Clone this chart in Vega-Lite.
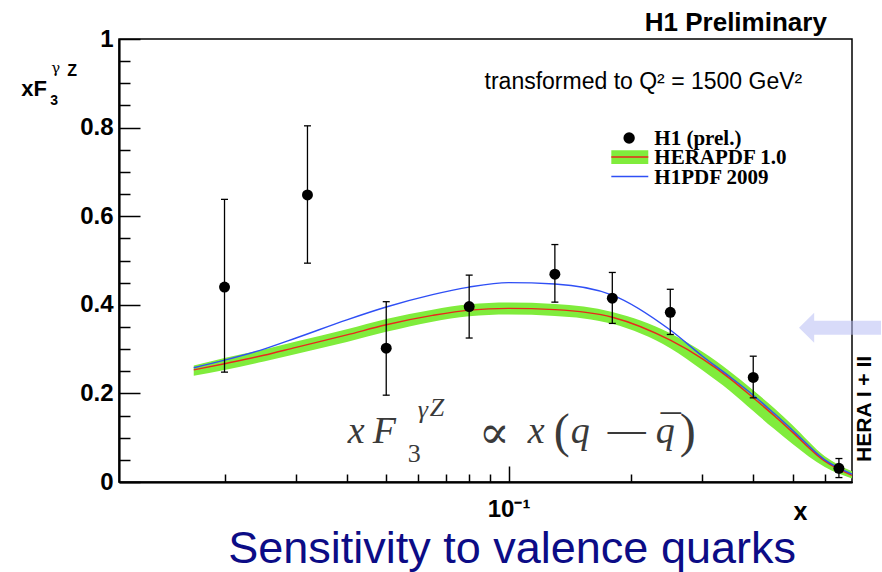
{
  "$schema": "https://vega.github.io/schema/vega-lite/v6.json",
  "width": 733,
  "height": 443,
  "autosize": {"type": "none"},
  "padding": {"left": 119, "top": 39, "right": 30, "bottom": 90},
  "background": "white",
  "config": {
    "view": {"stroke": "#000", "strokeWidth": 1.5},
    "font": "Liberation Sans",
    "axis": {"grid": false, "domainColor": "#000", "domainWidth": 1.5, "tickColor": "#000", "tickWidth": 1.5, "title": null}
  },
  "resolve": {"axis": {"x": "independent", "y": "independent"}},
  "datasets": {
    "curves": [
      {"x": 0.0168, "lo": 0.240, "hi": 0.263, "herapdf": 0.253, "h1pdf": 0.258},
      {"x": 0.02, "lo": 0.253, "hi": 0.280, "herapdf": 0.267, "h1pdf": 0.275},
      {"x": 0.025, "lo": 0.272, "hi": 0.299, "herapdf": 0.286, "h1pdf": 0.300},
      {"x": 0.03, "lo": 0.289, "hi": 0.317, "herapdf": 0.304, "h1pdf": 0.325},
      {"x": 0.04, "lo": 0.316, "hi": 0.345, "herapdf": 0.332, "h1pdf": 0.366},
      {"x": 0.05, "lo": 0.339, "hi": 0.368, "herapdf": 0.355, "h1pdf": 0.395},
      {"x": 0.065, "lo": 0.362, "hi": 0.389, "herapdf": 0.376, "h1pdf": 0.423},
      {"x": 0.08, "lo": 0.374, "hi": 0.401, "herapdf": 0.388, "h1pdf": 0.440},
      {"x": 0.1, "lo": 0.378, "hi": 0.405, "herapdf": 0.392, "h1pdf": 0.450},
      {"x": 0.13, "lo": 0.375, "hi": 0.402, "herapdf": 0.389, "h1pdf": 0.447},
      {"x": 0.18, "lo": 0.357, "hi": 0.384, "herapdf": 0.372, "h1pdf": 0.422},
      {"x": 0.25, "lo": 0.302, "hi": 0.336, "herapdf": 0.320, "h1pdf": 0.343},
      {"x": 0.3, "lo": 0.252, "hi": 0.294, "herapdf": 0.278, "h1pdf": 0.284},
      {"x": 0.35, "lo": 0.206, "hi": 0.250, "herapdf": 0.234, "h1pdf": 0.238},
      {"x": 0.4, "lo": 0.160, "hi": 0.207, "herapdf": 0.190, "h1pdf": 0.196},
      {"x": 0.45, "lo": 0.120, "hi": 0.167, "herapdf": 0.150, "h1pdf": 0.155},
      {"x": 0.5, "lo": 0.086, "hi": 0.128, "herapdf": 0.112, "h1pdf": 0.117},
      {"x": 0.6, "lo": 0.034, "hi": 0.058, "herapdf": 0.047, "h1pdf": 0.050},
      {"x": 0.7, "lo": 0.008, "hi": 0.024, "herapdf": 0.015, "h1pdf": 0.018}
    ],
    "points": [
      {"x": 0.02, "y": 0.440, "lo": 0.248, "hi": 0.638},
      {"x": 0.032, "y": 0.648, "lo": 0.494, "hi": 0.804},
      {"x": 0.05, "y": 0.302, "lo": 0.196, "hi": 0.407},
      {"x": 0.08, "y": 0.396, "lo": 0.325, "hi": 0.467},
      {"x": 0.13, "y": 0.469, "lo": 0.406, "hi": 0.536},
      {"x": 0.18, "y": 0.415, "lo": 0.358, "hi": 0.473},
      {"x": 0.25, "y": 0.383, "lo": 0.333, "hi": 0.435},
      {"x": 0.4, "y": 0.236, "lo": 0.190, "hi": 0.284},
      {"x": 0.65, "y": 0.031, "lo": 0.010, "hi": 0.053}
    ]
  },
  "layer": [
    {
      "data": {"name": "curves"},
      "mark": {"type": "area", "color": "#80ec3c", "interpolate": "monotone"},
      "encoding": {
        "x": {
          "field": "x", "type": "quantitative",
          "scale": {"type": "log", "domain": [0.011, 0.7], "nice": false},
          "axis": {
            "orient": "bottom", "values": [0.1], "ticks": false,
            "labelExpr": "'10⁻¹'",
            "labelFont": "Liberation Sans", "labelFontSize": 24, "labelFontWeight": "bold", "labelColor": "#000",
            "labelFlush": false, "labelOverlap": false, "labelBound": false, "labelPadding": 15
          }
        },
        "y": {
          "field": "lo", "type": "quantitative",
          "scale": {"domain": [0, 1], "nice": false, "zero": false},
          "axis": {
            "orient": "left", "values": [0, 0.2, 0.4, 0.6, 0.8, 1], "ticks": false,
            "labelExpr": "format(datum.value, '~g')",
            "labelFont": "Liberation Sans", "labelFontSize": 24, "labelFontWeight": "bold", "labelColor": "#000",
            "labelFlush": false, "labelOverlap": false, "labelBound": false, "labelPadding": 6
          }
        },
        "y2": {"field": "hi"}
      }
    },
    {
      "data": {"name": "curves"},
      "mark": {"type": "line", "color": "#e8281c", "strokeWidth": 1.4, "interpolate": "monotone"},
      "encoding": {
        "x": {
          "field": "x", "type": "quantitative",
          "axis": {"orient": "bottom", "values": [0.1], "labels": false, "tickSize": -16}
        },
        "y": {
          "field": "herapdf", "type": "quantitative",
          "axis": {"orient": "left", "values": [0, 0.2, 0.4, 0.6, 0.8, 1], "labels": false, "tickSize": -21}
        }
      }
    },
    {
      "data": {"name": "curves"},
      "mark": {"type": "line", "color": "#2f4ff5", "strokeWidth": 1.4, "interpolate": "monotone"},
      "encoding": {
        "x": {
          "field": "x", "type": "quantitative",
          "axis": {"orient": "bottom", "values": [0.02, 0.03, 0.04, 0.05, 0.06, 0.07, 0.08, 0.09, 0.2, 0.3, 0.4, 0.5, 0.6], "labels": false, "tickSize": -8}
        },
        "y": {
          "field": "h1pdf", "type": "quantitative",
          "axis": {"orient": "left", "values": [0.05, 0.1, 0.15, 0.25, 0.3, 0.35, 0.45, 0.5, 0.55, 0.65, 0.7, 0.75, 0.85, 0.9, 0.95], "labels": false, "tickSize": -11}
        }
      }
    },
    {
      "data": {"name": "points"},
      "mark": {"type": "rule", "color": "#000", "strokeWidth": 1.3},
      "encoding": {
        "x": {"field": "x", "type": "quantitative", "axis": null},
        "y": {"field": "lo", "type": "quantitative", "axis": null},
        "y2": {"field": "hi"}
      }
    },
    {
      "data": {"name": "points"},
      "mark": {"type": "point", "shape": "stroke", "filled": false, "color": "#000", "size": 49, "strokeWidth": 1.3, "opacity": 1},
      "encoding": {
        "x": {"field": "x", "type": "quantitative", "axis": null},
        "y": {"field": "lo", "type": "quantitative", "axis": null}
      }
    },
    {
      "data": {"name": "points"},
      "mark": {"type": "point", "shape": "stroke", "filled": false, "color": "#000", "size": 49, "strokeWidth": 1.3, "opacity": 1},
      "encoding": {
        "x": {"field": "x", "type": "quantitative", "axis": null},
        "y": {"field": "hi", "type": "quantitative", "axis": null}
      }
    },
    {
      "data": {"name": "points"},
      "mark": {"type": "circle", "color": "#000", "size": 120, "opacity": 1},
      "encoding": {
        "x": {"field": "x", "type": "quantitative", "axis": null},
        "y": {"field": "y", "type": "quantitative", "axis": null}
      }
    },
    {
      "data": {"values": [{}]},
      "mark": {"type": "point", "shape": "M-1,0L-0.63,-0.366L-0.63,-0.17L1,-0.17L1,0.17L-0.63,0.17L-0.63,0.366Z", "filled": true, "color": "#b8bef4", "opacity": 0.55, "size": 6724, "strokeWidth": 0},
      "encoding": {
        "x": {"datum": 0.654, "type": "quantitative", "axis": null},
        "y": {"datum": 0.348, "type": "quantitative", "axis": null}
      }
    },
    {
      "data": {"values": [{}]},
      "mark": {"type": "text", "text": "H1 Preliminary", "font": "Liberation Sans", "fontSize": 26, "fontWeight": "bold", "color": "#000", "align": "right", "baseline": "alphabetic"},
      "encoding": {
        "x": {"datum": 0.607, "type": "quantitative", "axis": null},
        "y": {"datum": 1.018, "type": "quantitative", "axis": null}
      }
    },
    {
      "data": {"values": [{}]},
      "mark": {"type": "text", "text": "HERA I + II", "font": "Liberation Sans", "fontSize": 21, "fontWeight": "bold", "color": "#000", "angle": 270, "align": "center", "baseline": "middle"},
      "encoding": {
        "x": {"datum": 0.754, "type": "quantitative", "axis": null},
        "y": {"datum": 0.165, "type": "quantitative", "axis": null}
      }
    },
    {
      "data": {"values": [{}]},
      "mark": {"type": "text", "text": "transformed to Q² = 1500 GeV²", "font": "Liberation Sans", "fontSize": 23, "color": "#000", "align": "right", "baseline": "alphabetic"},
      "encoding": {
        "x": {"datum": 0.528, "type": "quantitative", "axis": null},
        "y": {"datum": 0.887, "type": "quantitative", "axis": null}
      }
    },
    {
      "data": {"values": [{}]},
      "mark": {"type": "circle", "color": "#000", "size": 130, "opacity": 1},
      "encoding": {
        "x": {"datum": 0.198, "type": "quantitative", "axis": null},
        "y": {"datum": 0.7765, "type": "quantitative", "axis": null}
      }
    },
    {
      "data": {"values": [{}]},
      "mark": {"type": "rect", "color": "#80ec3c"},
      "encoding": {
        "x": {"datum": 0.179, "type": "quantitative", "axis": null},
        "x2": {"datum": 0.2207},
        "y": {"datum": 0.749, "type": "quantitative", "axis": null},
        "y2": {"datum": 0.718}
      }
    },
    {
      "data": {"values": [{}]},
      "mark": {"type": "rule", "color": "#e8281c", "strokeWidth": 1.5},
      "encoding": {
        "x": {"datum": 0.179, "type": "quantitative", "axis": null},
        "x2": {"datum": 0.2207},
        "y": {"datum": 0.7336, "type": "quantitative", "axis": null}
      }
    },
    {
      "data": {"values": [{}]},
      "mark": {"type": "rule", "color": "#2f4ff5", "strokeWidth": 1.5},
      "encoding": {
        "x": {"datum": 0.179, "type": "quantitative", "axis": null},
        "x2": {"datum": 0.2207},
        "y": {"datum": 0.6896, "type": "quantitative", "axis": null}
      }
    },
    {
      "data": {"values": [{}]},
      "mark": {"type": "text", "text": "H1 (prel.)", "font": "Liberation Serif", "fontSize": 21, "fontWeight": "bold", "color": "#000", "align": "left", "baseline": "alphabetic"},
      "encoding": {
        "x": {"datum": 0.2284, "type": "quantitative", "axis": null},
        "y": {"datum": 0.7607, "type": "quantitative", "axis": null}
      }
    },
    {
      "data": {"values": [{}]},
      "mark": {"type": "text", "text": "HERAPDF 1.0", "font": "Liberation Serif", "fontSize": 21, "fontWeight": "bold", "color": "#000", "align": "left", "baseline": "alphabetic"},
      "encoding": {
        "x": {"datum": 0.2284, "type": "quantitative", "axis": null},
        "y": {"datum": 0.7172, "type": "quantitative", "axis": null}
      }
    },
    {
      "data": {"values": [{}]},
      "mark": {"type": "text", "text": "H1PDF 2009", "font": "Liberation Serif", "fontSize": 21, "fontWeight": "bold", "color": "#000", "align": "left", "baseline": "alphabetic"},
      "encoding": {
        "x": {"datum": 0.2284, "type": "quantitative", "axis": null},
        "y": {"datum": 0.672, "type": "quantitative", "axis": null}
      }
    },
    {
      "data": {"values": [{}]},
      "mark": {"type": "text", "text": "x", "font": "Liberation Sans", "fontSize": 25, "fontWeight": "bold", "color": "#000", "align": "center", "baseline": "alphabetic"},
      "encoding": {
        "x": {"datum": 0.5228, "type": "quantitative", "axis": null},
        "y": {"datum": -0.0858, "type": "quantitative", "axis": null}
      }
    },
    {
      "data": {"values": [{}]},
      "mark": {"type": "text", "text": "Sensitivity to valence quarks", "font": "Liberation Sans", "fontSize": 45, "color": "#0c0c86", "align": "center", "baseline": "alphabetic"},
      "encoding": {
        "x": {"datum": 0.102, "type": "quantitative", "axis": null},
        "y": {"datum": -0.1828, "type": "quantitative", "axis": null}
      }
    },
    {
      "data": {"values": [{}]},
      "mark": {"type": "text", "text": "xF", "font": "Liberation Sans", "fontSize": 22, "fontWeight": "bold", "color": "#000", "align": "left", "baseline": "alphabetic"},
      "encoding": {
        "x": {"datum": 0.00632, "type": "quantitative", "axis": null},
        "y": {"datum": 0.871, "type": "quantitative", "axis": null}
      }
    },
    {
      "data": {"values": [{}]},
      "mark": {"type": "text", "text": "3", "font": "Liberation Sans", "fontSize": 14, "fontWeight": "bold", "color": "#000", "align": "left", "baseline": "alphabetic", "dx": 29, "dy": 9},
      "encoding": {
        "x": {"datum": 0.00632, "type": "quantitative", "axis": null},
        "y": {"datum": 0.871, "type": "quantitative", "axis": null}
      }
    },
    {
      "data": {"values": [{}]},
      "mark": {"type": "text", "text": "γ", "font": "DejaVu Serif", "fontSize": 15, "color": "#000", "align": "left", "baseline": "alphabetic", "dx": 30, "dy": -23},
      "encoding": {
        "x": {"datum": 0.00632, "type": "quantitative", "axis": null},
        "y": {"datum": 0.871, "type": "quantitative", "axis": null}
      }
    },
    {
      "data": {"values": [{}]},
      "mark": {"type": "text", "text": "Z", "font": "Liberation Sans", "fontSize": 16, "fontWeight": "bold", "color": "#000", "align": "left", "baseline": "alphabetic", "dx": 46, "dy": -20},
      "encoding": {
        "x": {"datum": 0.00632, "type": "quantitative", "axis": null},
        "y": {"datum": 0.871, "type": "quantitative", "axis": null}
      }
    },
    {
      "data": {"values": [{}]},
      "mark": {"type": "text", "text": "x", "font": "Liberation Serif", "fontSize": 38, "fontStyle": "italic", "color": "#3a3a3a", "align": "left", "baseline": "alphabetic"},
      "encoding": {
        "x": {"datum": 0.0402, "type": "quantitative", "axis": null},
        "y": {"datum": 0.088, "type": "quantitative", "axis": null}
      }
    },
    {
      "data": {"values": [{}]},
      "mark": {"type": "text", "text": "F", "font": "Liberation Serif", "fontSize": 38, "fontStyle": "italic", "color": "#3a3a3a", "align": "left", "baseline": "alphabetic", "dx": 25},
      "encoding": {
        "x": {"datum": 0.0402, "type": "quantitative", "axis": null},
        "y": {"datum": 0.088, "type": "quantitative", "axis": null}
      }
    },
    {
      "data": {"values": [{}]},
      "mark": {"type": "text", "text": "3", "font": "Liberation Serif", "fontSize": 26, "color": "#3a3a3a", "align": "left", "baseline": "alphabetic", "dx": 60, "dy": 19},
      "encoding": {
        "x": {"datum": 0.0402, "type": "quantitative", "axis": null},
        "y": {"datum": 0.088, "type": "quantitative", "axis": null}
      }
    },
    {
      "data": {"values": [{}]},
      "mark": {"type": "text", "text": "γ", "font": "Liberation Serif", "fontSize": 26, "fontStyle": "italic", "color": "#3a3a3a", "align": "left", "baseline": "alphabetic", "dx": 70, "dy": -25},
      "encoding": {
        "x": {"datum": 0.0402, "type": "quantitative", "axis": null},
        "y": {"datum": 0.088, "type": "quantitative", "axis": null}
      }
    },
    {
      "data": {"values": [{}]},
      "mark": {"type": "text", "text": "Z", "font": "Liberation Serif", "fontSize": 26, "fontStyle": "italic", "color": "#3a3a3a", "align": "left", "baseline": "alphabetic", "dx": 82, "dy": -27},
      "encoding": {
        "x": {"datum": 0.0402, "type": "quantitative", "axis": null},
        "y": {"datum": 0.088, "type": "quantitative", "axis": null}
      }
    },
    {
      "data": {"values": [{}]},
      "mark": {"type": "text", "text": "∝", "font": "DejaVu Serif", "fontSize": 46, "color": "#3a3a3a", "align": "left", "baseline": "alphabetic", "dx": 131, "dy": 5},
      "encoding": {
        "x": {"datum": 0.0402, "type": "quantitative", "axis": null},
        "y": {"datum": 0.088, "type": "quantitative", "axis": null}
      }
    },
    {
      "data": {"values": [{}]},
      "mark": {"type": "text", "text": "x", "font": "Liberation Serif", "fontSize": 38, "fontStyle": "italic", "color": "#3a3a3a", "align": "left", "baseline": "alphabetic", "dx": 180},
      "encoding": {
        "x": {"datum": 0.0402, "type": "quantitative", "axis": null},
        "y": {"datum": 0.088, "type": "quantitative", "axis": null}
      }
    },
    {
      "data": {"values": [{}]},
      "mark": {"type": "text", "text": "(", "font": "Liberation Serif", "fontSize": 48, "color": "#3a3a3a", "align": "left", "baseline": "alphabetic", "dx": 206, "dy": 4},
      "encoding": {
        "x": {"datum": 0.0402, "type": "quantitative", "axis": null},
        "y": {"datum": 0.088, "type": "quantitative", "axis": null}
      }
    },
    {
      "data": {"values": [{}]},
      "mark": {"type": "text", "text": "q", "font": "Liberation Serif", "fontSize": 38, "fontStyle": "italic", "color": "#3a3a3a", "align": "left", "baseline": "alphabetic", "dx": 223},
      "encoding": {
        "x": {"datum": 0.0402, "type": "quantitative", "axis": null},
        "y": {"datum": 0.088, "type": "quantitative", "axis": null}
      }
    },
    {
      "data": {"values": [{}]},
      "mark": {"type": "text", "text": "—", "font": "Liberation Serif", "fontSize": 38, "color": "#3a3a3a", "align": "left", "baseline": "alphabetic", "dx": 260, "dy": -1},
      "encoding": {
        "x": {"datum": 0.0402, "type": "quantitative", "axis": null},
        "y": {"datum": 0.088, "type": "quantitative", "axis": null}
      }
    },
    {
      "data": {"values": [{}]},
      "mark": {"type": "text", "text": "q", "font": "Liberation Serif", "fontSize": 38, "fontStyle": "italic", "color": "#3a3a3a", "align": "left", "baseline": "alphabetic", "dx": 308},
      "encoding": {
        "x": {"datum": 0.0402, "type": "quantitative", "axis": null},
        "y": {"datum": 0.088, "type": "quantitative", "axis": null}
      }
    },
    {
      "data": {"values": [{}]},
      "mark": {"type": "text", "text": "¯", "font": "Liberation Serif", "fontSize": 40, "color": "#3a3a3a", "align": "left", "baseline": "alphabetic", "dx": 313},
      "encoding": {
        "x": {"datum": 0.0402, "type": "quantitative", "axis": null},
        "y": {"datum": 0.088, "type": "quantitative", "axis": null}
      }
    },
    {
      "data": {"values": [{}]},
      "mark": {"type": "text", "text": ")", "font": "Liberation Serif", "fontSize": 48, "color": "#3a3a3a", "align": "left", "baseline": "alphabetic", "dx": 332, "dy": 4},
      "encoding": {
        "x": {"datum": 0.0402, "type": "quantitative", "axis": null},
        "y": {"datum": 0.088, "type": "quantitative", "axis": null}
      }
    }
  ]
}
